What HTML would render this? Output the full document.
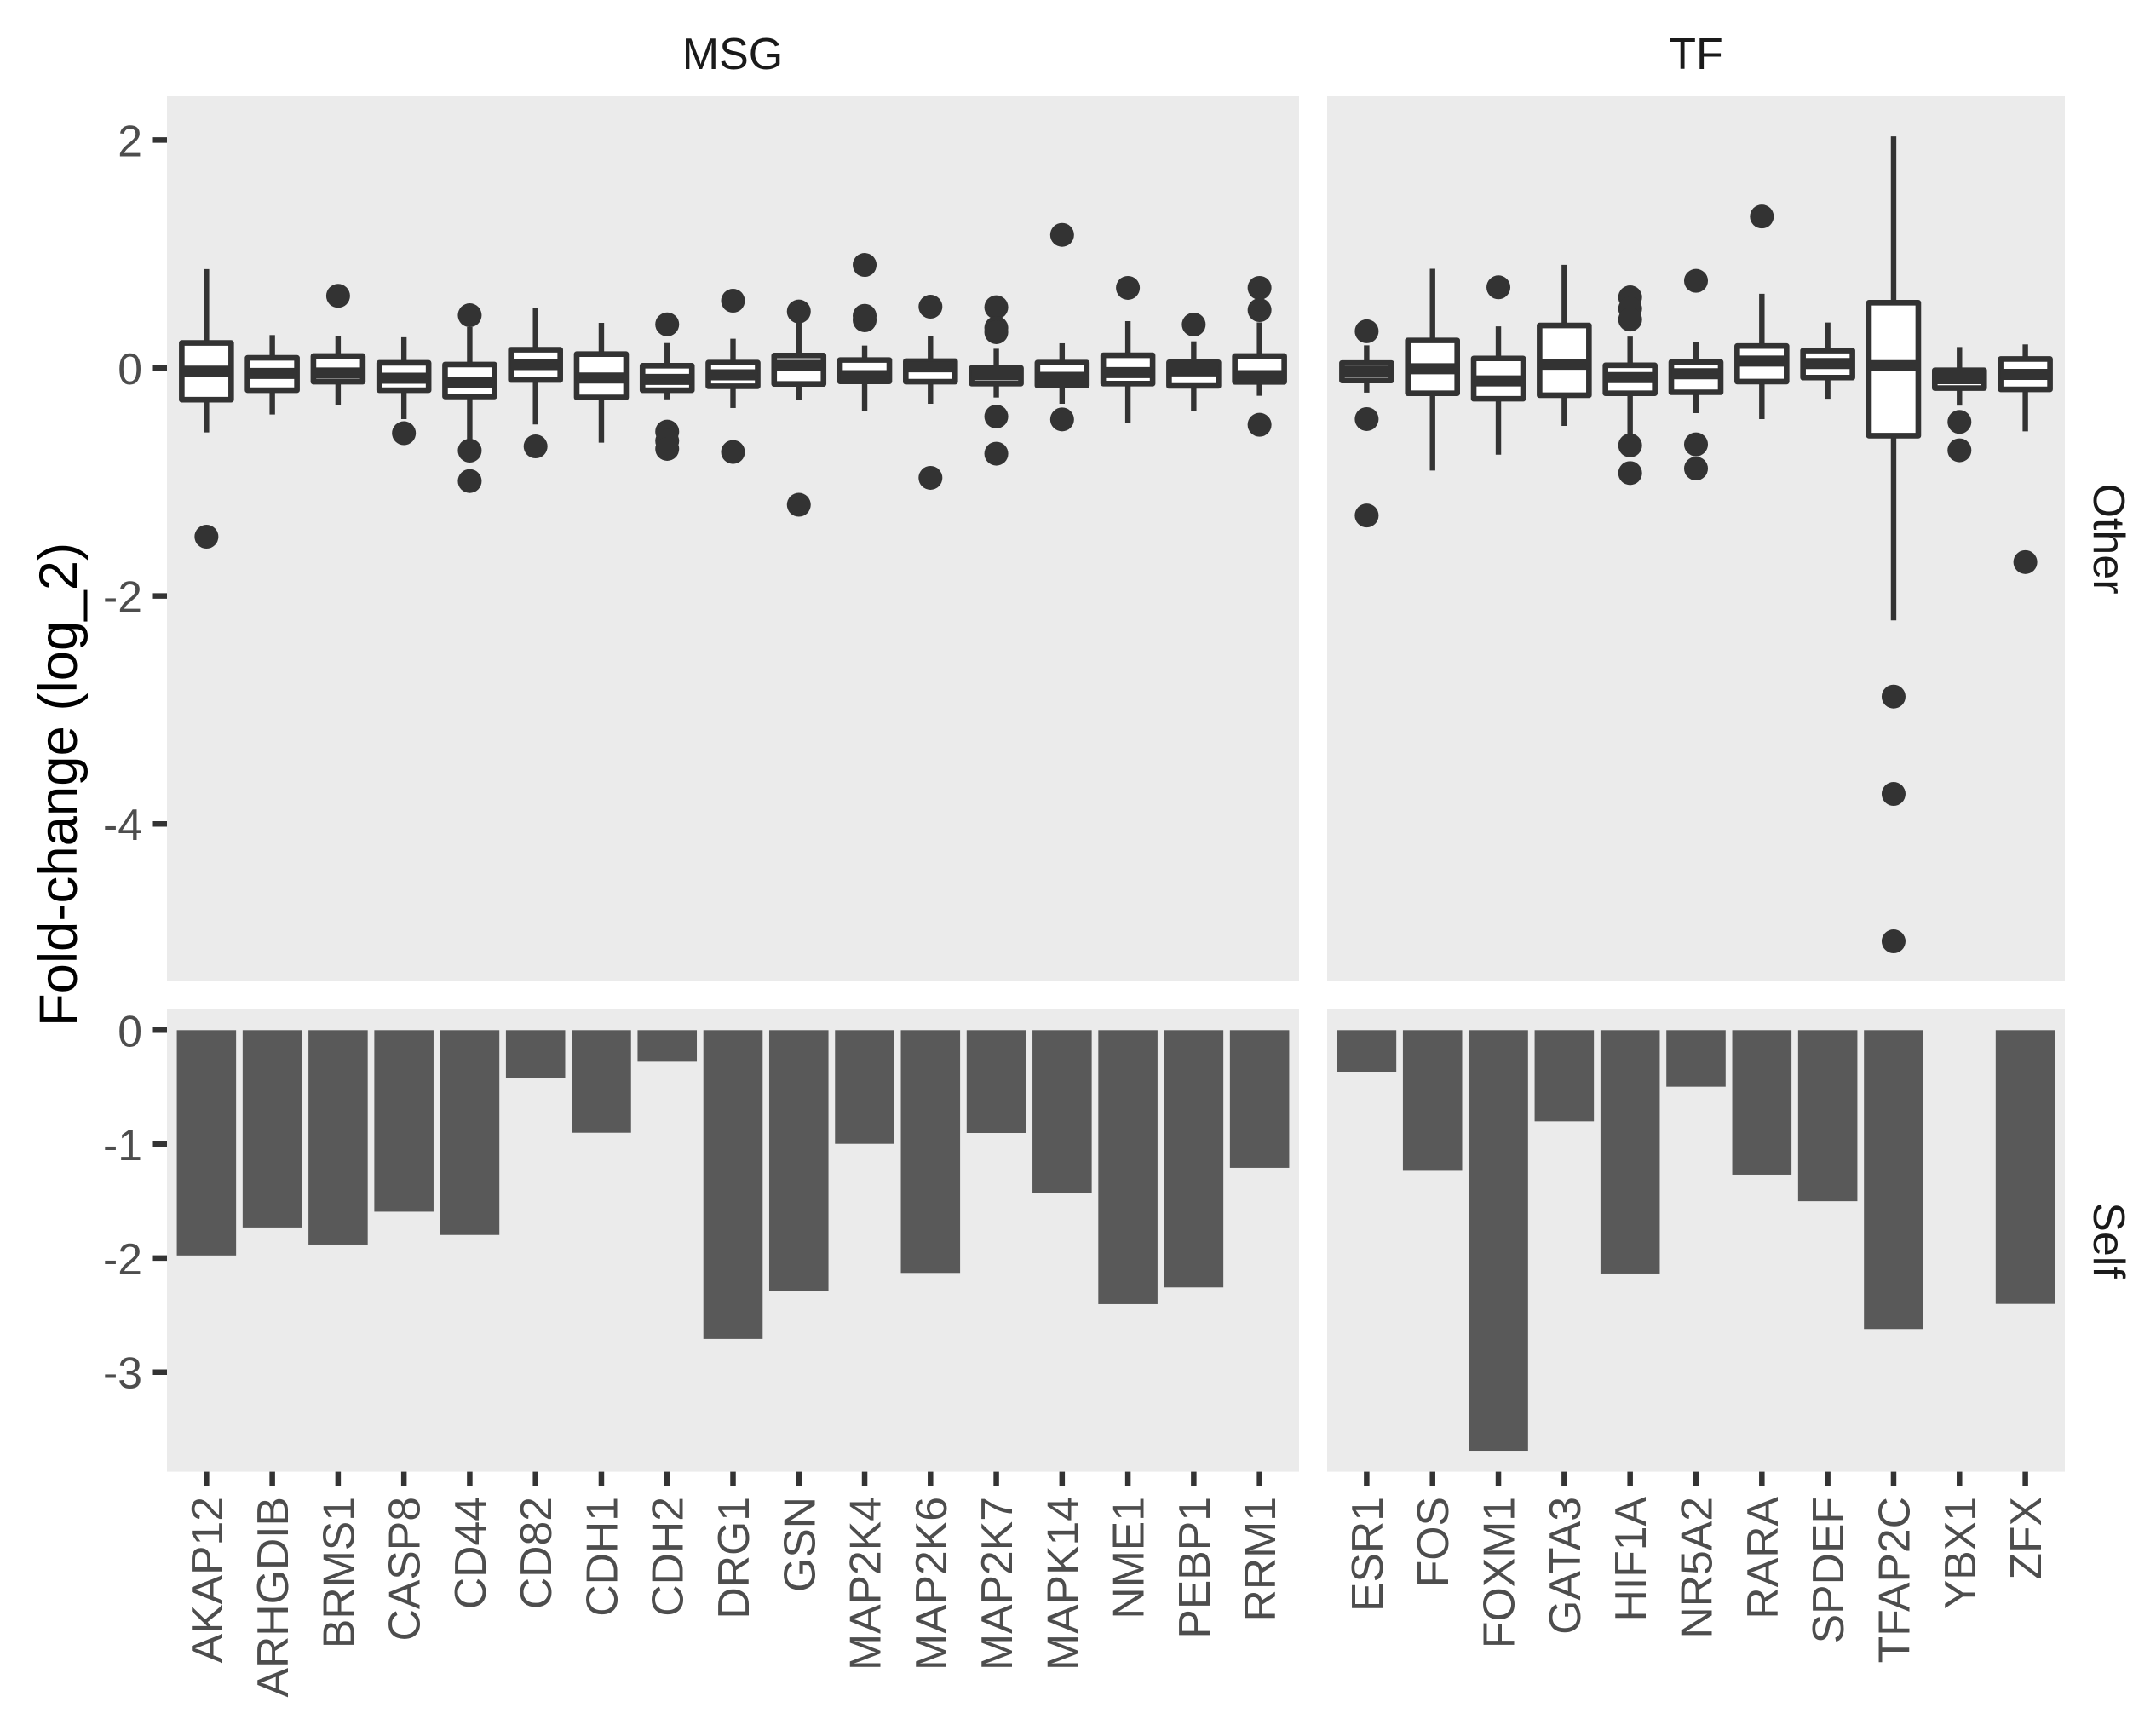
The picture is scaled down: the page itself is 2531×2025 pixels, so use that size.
<!DOCTYPE html>
<html>
<head>
<meta charset="utf-8">
<title>Fold-change by gene</title>
<style>
html,body{margin:0;padding:0;background:#fff;}
svg{display:block;font-family:"Liberation Sans",Arial,sans-serif;}
</style>
</head>
<body>
<svg id="chart" xmlns="http://www.w3.org/2000/svg" width="2531" height="2025" viewBox="0 0 2531 2025">
<rect x="0" y="0" width="2531" height="2025" fill="#ffffff"/>
<rect x="196" y="113" width="1329" height="1039" fill="#ebebeb"/>
<rect x="1558" y="113" width="866" height="1039" fill="#ebebeb"/>
<rect x="196" y="1184.6" width="1329" height="543" fill="#ebebeb"/>
<rect x="1558" y="1184.6" width="866" height="543" fill="#ebebeb"/>
<text x="860" y="81" font-size="52" fill="#1a1a1a" text-anchor="middle">MSG</text>
<text x="1991" y="81" font-size="52" fill="#1a1a1a" text-anchor="middle">TF</text>
<text transform="translate(2458,632.5) rotate(90)" font-size="52" fill="#1a1a1a" text-anchor="middle">Other</text>
<text transform="translate(2458,1456) rotate(90)" font-size="52" fill="#1a1a1a" text-anchor="middle">Self</text>
<text transform="translate(90,921) rotate(-90)" font-size="63.5" fill="#000000" text-anchor="middle">Fold-change (log_2)</text>
<g id="layer"></g>
</svg>
<script>
// MSG facet
const msgGenes = ["AKAP12","ARHGDIB","BRMS1","CASP8","CD44","CD82","CDH1","CDH2","DRG1","GSN","MAP2K4","MAP2K6","MAP2K7","MAPK14","NME1","PEBP1","RRM1"];
const msgWhiskerHigh = [0.868,0.289,0.283,0.27,0.36,0.526,0.396,0.219,0.257,0.40,0.197,0.284,0.169,0.217,0.411,0.234,0.40];
const msgQ3 = [0.22,0.089,0.105,0.045,0.03,0.16,0.122,0.02,0.047,0.11,0.07,0.06,0,0.047,0.112,0.05,0.105];
const msgMedian = [-0.028,-0.048,-0.044,-0.09,-0.124,0.03,-0.088,-0.1,-0.06,0.022,-0.067,0.01,-0.06,-0.082,-0.04,-0.025,-0.067];
const msgQ1 = [-0.278,-0.195,-0.12,-0.195,-0.25,-0.105,-0.258,-0.195,-0.16,-0.14,-0.117,-0.12,-0.137,-0.154,-0.137,-0.157,-0.122];
const msgWhiskerLow = [-0.565,-0.408,-0.328,-0.448,-0.65,-0.495,-0.655,-0.275,-0.351,-0.28,-0.379,-0.314,-0.259,-0.314,-0.478,-0.379,-0.244];
const msgOutliers = [[-1.48],[],[0.633],[-0.572],[0.463,-0.725,-0.992],[-0.688],[],[0.383,-0.558,-0.64,-0.71],[0.59,-0.737],[0.496,-1.2],[0.904,0.458,0.419],[0.538,-0.964],[0.533,0.351,0.314,-0.426,-0.752],[1.168,-0.451],[0.703],[0.381],[0.703,0.508,-0.498]];
const msgSelf = [-1.977,-1.731,-1.881,-1.593,-1.797,-0.421,-0.9,-0.277,-2.71,-2.287,-0.997,-2.13,-0.902,-1.43,-2.404,-2.257,-1.208];

// TF facet
const tfGenes = ["ESR1","FOS","FOXM1","GATA3","HIF1A","NR5A2","RARA","SPDEF","TFAP2C","YBX1","ZFX"];
const tfWhiskerHigh = [0.199,0.871,0.365,0.905,0.276,0.225,0.651,0.399,2.032,0.184,0.207];
const tfQ3 = [0.044,0.242,0.084,0.373,0.024,0.053,0.193,0.153,0.573,-0.02,0.079];
const tfMedian = [-0.03,-0.007,-0.113,0.033,-0.084,-0.05,0.061,0.039,0.021,-0.093,-0.056];
const tfQ1 = [-0.11,-0.222,-0.27,-0.239,-0.222,-0.213,-0.119,-0.084,-0.594,-0.176,-0.187];
const tfWhiskerLow = [-0.216,-0.9,-0.76,-0.508,-0.6,-0.396,-0.448,-0.27,-2.214,-0.33,-0.556];
const tfOutliers = [[0.322,-0.448,-1.294],[],[0.708],[],[0.62,0.52,0.425,-0.679,-0.922],[0.765,-0.67,-0.882],[1.329],[],[-2.883,-3.737,-5.03],[-0.473,-0.722],[-1.703]];
const tfSelf = [-0.367,-1.234,-3.69,-0.8,-2.135,-0.496,-1.268,-1.501,-2.623,null,-2.402];

// Axis tick labels
const otherTicks = [2,0,-2,-4];
const selfTicks = [0,-1,-2,-3];

const SVGNS = "http://www.w3.org/2000/svg";
const layer = document.getElementById("layer");
const UNIT = 133.8;
const STEP = 77.3;
function yOther(v){ return 432 - UNIT * v; }
function ySelf(v){ return 1209.3 - UNIT * v; }
function xMsg(i){ return 196 + (0.6 + i) * (1329 / (msgGenes.length - 1 + 1.2)); }
function xTf(i){ return 1558 + (0.6 + i) * (866 / (tfGenes.length - 1 + 1.2)); }
function make(tag, attrs){
  const e = document.createElementNS(SVGNS, tag);
  for (const k in attrs) e.setAttribute(k, attrs[k]);
  layer.appendChild(e);
  return e;
}
function line(x1,y1,x2,y2,w,name){
  const e = make("line",{x1:x1,y1:y1,x2:x2,y2:y2,stroke:"#333333","stroke-width":w});
  
  
  return e;
}

function drawFacet(genes, xf, hi, q3, med, q1, lo, outs, self){
  genes.forEach(function(g, i){
    const x = xf(i);
    const slug = g.toLowerCase();
    const halfBox = STEP * 0.375;
    const halfBar = STEP * 0.45;

    // self bar
    if (self[i] !== null) {
      const bar = make("rect",{x:x-halfBar,y:ySelf(0),width:halfBar*2,height:ySelf(self[i])-ySelf(0),fill:"#595959"});
      
      
    }

    // whiskers
    line(x,yOther(hi[i]),x,yOther(q3[i]),6.4,'whisker-high-' + slug);
    line(x,yOther(q1[i]),x,yOther(lo[i]),6.4,'whisker-low-' + slug);

    // box
    const box = make("rect",{x:x-halfBox,y:yOther(q3[i]),width:halfBox*2,height:yOther(q1[i])-yOther(q3[i]),fill:"#ffffff",stroke:"#333333","stroke-width":6.6,"stroke-linejoin":"round"});
    
    

    // median
    line(x-halfBox,yOther(med[i]),x+halfBox,yOther(med[i]),13,'median-' + slug);

    // outliers
    outs[i].forEach(function(v){
      const dot = make("circle",{cx:x,cy:yOther(v),r:14,fill:"#333333"});
      
      
    });

    // x tick and label
    line(x,1727.6,x,1744.5,6.5,'x-tick-' + slug);
    const label = make("text",{transform:"translate("+(x+18.5)+",1757) rotate(-90)","font-size":51.7,fill:"#4d4d4d","text-anchor":"end"});
    
    
    label.textContent = g;
  });
}

drawFacet(msgGenes, xMsg, msgWhiskerHigh, msgQ3, msgMedian, msgQ1, msgWhiskerLow, msgOutliers, msgSelf);
drawFacet(tfGenes, xTf, tfWhiskerHigh, tfQ3, tfMedian, tfQ1, tfWhiskerLow, tfOutliers, tfSelf);

function drawYTicks(ticks, yf, group){
  ticks.forEach(function(t){
    const y = yf(t);
    line(179.5,y,196,y,6.5,'y-tick-' + group);
    const label = make("text",{x:167,y:y+19,"font-size":51.7,fill:"#4d4d4d","text-anchor":"end"});
    
    
    label.textContent = String(t);
  });
}
drawYTicks(otherTicks, yOther, 'other');
drawYTicks(selfTicks, ySelf, 'self');
</script>
</body>
</html>
